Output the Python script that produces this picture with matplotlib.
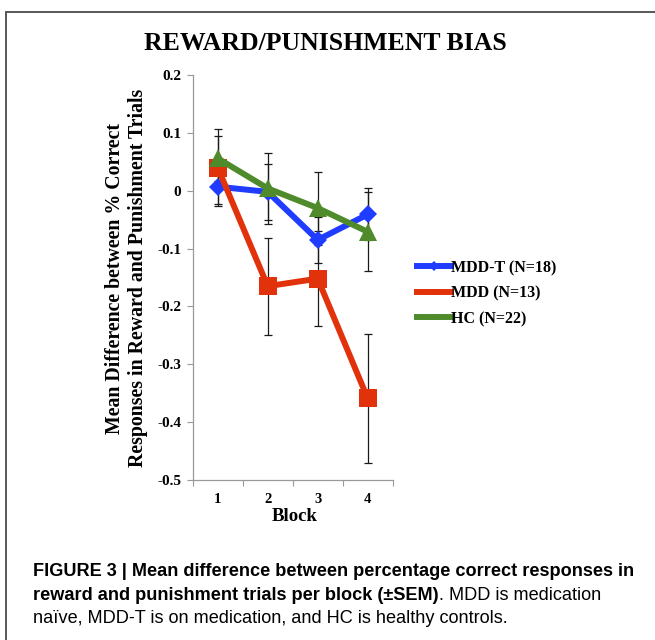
import matplotlib
matplotlib.use('Agg')
import matplotlib.pyplot as plt
from matplotlib.lines import Line2D
from matplotlib.patches import Rectangle
from matplotlib import font_manager

blocks = ['1', '2', '3', '4']
mddt = [0.007, -0.002, -0.085, -0.041]
mddt_err = [0.030, 0.048, 0.040, 0.045]
mdd = [0.040, -0.165, -0.152, -0.359]
mdd_err = [0.066, 0.084, 0.082, 0.112]
hc = [0.056, 0.004, -0.030, -0.071]
hc_err = [0.039, 0.062, 0.063, 0.068]
series_labels = ['MDD-T (N=18)', 'MDD (N=13)', 'HC (N=22)']
yticks = [0.2, 0.1, 0, -0.1, -0.2, -0.3, -0.4, -0.5]
ytick_labels = ['0.2', '0.1', '0', '-0.1', '-0.2', '-0.3', '-0.4', '-0.5']

names = {f.name for f in font_manager.fontManager.ttflist}
SERIF = 'Liberation Serif'
CAPFONT = 'Liberation Sans Narrow' if 'Liberation Sans Narrow' in names else 'Liberation Sans'

W, H = 655, 640
fig = plt.figure(figsize=(W / 100, H / 100), dpi=100)
fig.patch.set_facecolor('white')

# outer frame
fig.patches.append(Rectangle((6 / W, -0.2), 1.2, (H - 12) / H + 0.2, transform=fig.transFigure,
                             fill=False, edgecolor='#4a4a4a', lw=1.3))

ax = fig.add_axes([192.7 / W, 1 - 480 / H, 200 / W, 405 / H])
x = list(range(1, len(blocks) + 1))

colors = ['#1f3cff', '#e2320c', '#4f8b2b']
markers = ['D', 's', '^']
msizes = [9.5, 12.5, 13.0]
data = [(mddt, mddt_err), (mdd, mdd_err), (hc, hc_err)]

for i, (vals, errs) in enumerate(data):
    ax.errorbar(x, vals, yerr=errs, fmt='none', ecolor='#1a1a1a', elinewidth=0.9,
                capsize=3.0, capthick=0.9, zorder=1)
for i, (vals, errs) in enumerate(data):
    ax.plot(x, vals, color=colors[i], lw=4.3, marker=markers[i], markersize=msizes[i],
            markeredgewidth=0, zorder=3 + i)

ax.set_xlim(0.5, 4.5)
ax.set_ylim(-0.5, 0.2)
ax.set_yticks(yticks)
ax.set_yticklabels(ytick_labels, fontfamily=SERIF, fontweight='bold', fontsize=11)
ax.set_xticks(x)
ax.set_xticklabels(blocks, fontfamily=SERIF, fontweight='bold', fontsize=10.5)
ax.set_xticks([0.5, 1.5, 2.5, 3.5, 4.5], minor=True)
ax.tick_params(axis='x', which='major', length=0, pad=9.5)
ax.tick_params(axis='x', which='minor', length=4.5, width=0.8, color='#999999', direction='out')
ax.tick_params(axis='y', which='major', length=4.3, width=0.8, color='#999999', direction='out', pad=4)
for s in ['top', 'right']:
    ax.spines[s].set_visible(False)
for s in ['left', 'bottom']:
    ax.spines[s].set_color('#999999')
    ax.spines[s].set_linewidth(0.9)
ax.patch.set_alpha(0)

# title
fig.text(325 / W, 1 - 43 / H, 'REWARD/PUNISHMENT BIAS', ha='center', va='center',
         fontfamily=SERIF, fontweight='bold', fontsize=18.5)
# y label
fig.text(126.5 / W, 1 - 278 / H, 'Mean Difference between % Correct\nResponses in Reward and Punishment Trials',
         rotation=90, ha='center', va='center', multialignment='center',
         fontfamily=SERIF, fontweight='bold', fontsize=14.3, linespacing=1.25)
# x label
fig.text(295 / W, 1 - 516.5 / H, 'Block', ha='center', va='center',
         fontfamily=SERIF, fontweight='bold', fontsize=13.5)

# legend
handles = [Line2D([], [], color=colors[i], lw=4.3, marker=markers[i], markersize=5,
                  markeredgewidth=0) for i in range(3)]
leg = fig.legend(handles, series_labels, loc='center left',
                 bbox_to_anchor=(417 / W, 1 - 293.5 / H), frameon=False,
                 prop={'family': SERIF, 'weight': 'bold', 'size': 11.5},
                 handlelength=2.1, handletextpad=0.05, labelspacing=0.6,
                 borderpad=0, borderaxespad=0)

# caption
cs = 13.1
t1 = fig.text(33 / W, 1 - 576 / H, 'FIGURE 3 | Mean difference between percentage correct responses in',
              ha='left', va='baseline', fontfamily=CAPFONT, fontweight='bold', fontsize=cs)
t2 = fig.text(33 / W, 1 - 599.5 / H, 'reward and punishment trials per block (\u00b1SEM)',
              ha='left', va='baseline', fontfamily=CAPFONT, fontweight='bold', fontsize=cs)
fig.add_artist(matplotlib.text.Annotation('. MDD is medication', xy=(1, 0), xycoords=t2,
                                          ha='left', va='bottom', fontfamily=CAPFONT, fontsize=cs))
fig.text(33 / W, 1 - 623 / H, 'na\u00efve, MDD-T is on medication, and HC is healthy controls.',
         ha='left', va='baseline', fontfamily=CAPFONT, fontsize=cs)

fig.savefig('out.png', dpi=100)
